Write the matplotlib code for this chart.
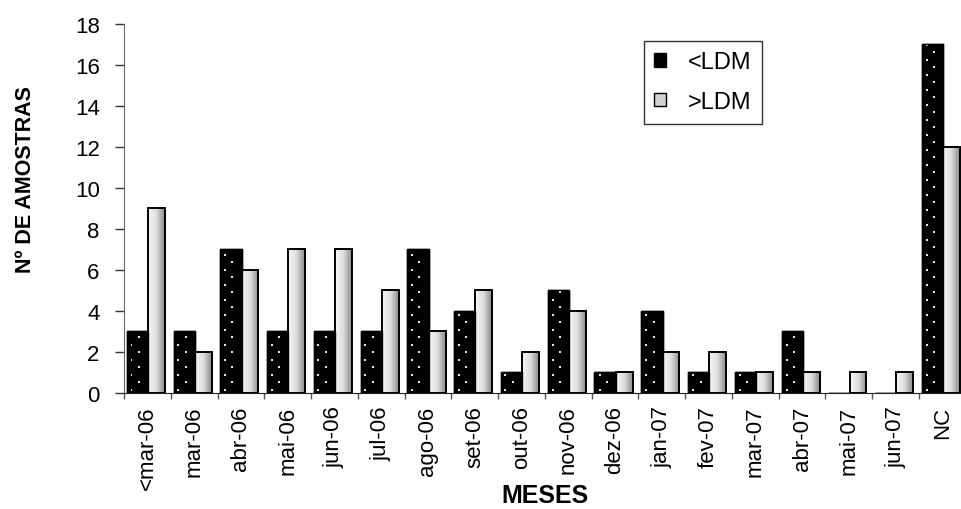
import numpy as np
import matplotlib
matplotlib.use('Agg')
import matplotlib.pyplot as plt
from matplotlib.colors import LinearSegmentedColormap
from matplotlib.path import Path
from matplotlib.patches import Patch

meses = ['<mar-06', 'mar-06', 'abr-06', 'mai-06', 'jun-06', 'jul-06', 'ago-06',
         'set-06', 'out-06', 'nov-06', 'dez-06', 'jan-07', 'fev-07', 'mar-07',
         'abr-07', 'mai-07', 'jun-07', 'NC']
abaixo_ldm = [3, 3, 7, 3, 3, 3, 7, 4, 1, 5, 1, 4, 1, 1, 3, 0, 0, 17]
acima_ldm = [9, 2, 6, 7, 7, 5, 3, 5, 2, 4, 1, 2, 2, 1, 1, 1, 1, 12]

plt.rcParams['font.family'] = ['Liberation Sans', 'DejaVu Sans']

fig = plt.figure(figsize=(9.61, 5.10), dpi=100)
ax = fig.add_axes([0.129, 0.2275, 0.876, 0.7235])

n = len(meses)
x = np.arange(n)
w1, w2 = 0.455, 0.36

# <LDM: black bars, white dot texture clipped to them
b1 = ax.bar(x + 0.06, abaixo_ldm, w1, align='edge', color='black',
            edgecolor='black', linewidth=1, zorder=2)
ny, nx = 369, 841
yy, xx = np.mgrid[0:ny, 0:nx]
cat_px = 841 / n
fx = (xx + 0.5) % cat_px
row = ((ny - yy) / 7.5).astype(int)
ry = (ny - yy) % 7.5
cx = np.where(row % 2 == 0, 7.5, 15.0)
dots = (np.abs(fx - cx) < 1.0) & (np.abs(ry - 3.75) < 1.0)
tex = np.zeros((ny, nx, 3))
tex[dots] = 0.9
paths = [b.get_path().transformed(b.get_patch_transform()) for b in b1 if b.get_height() > 0]
clip = Path.make_compound_path(*paths)
im = ax.imshow(tex, extent=[0, n, 0, 18], aspect='auto', zorder=3, interpolation='nearest')
im.set_clip_path(clip, ax.transData)
ax.bar(x + 0.06, abaixo_ldm, w1, align='edge', color='none',
       edgecolor='black', linewidth=1, zorder=4)

# >LDM: grey gradient bars
cmap = LinearSegmentedColormap.from_list('g', ['#f6f6f6', '#dedede', '#8a8a8a'])
grad = np.linspace(0, 1, 64).reshape(1, -1)
b2 = ax.bar(x + 0.06 + w1, acima_ldm, w2, align='edge', color='none',
            edgecolor='black', linewidth=1.4, zorder=4)
for b in b2:
    if b.get_height() == 0:
        continue
    g = ax.imshow(grad, cmap=cmap, aspect='auto', zorder=3,
                  extent=[b.get_x(), b.get_x() + b.get_width(), 0, b.get_height()])
    g.set_clip_path(b)

ax.set_xlim(0, n)
ax.set_ylim(0, 18)
ax.set_yticks(range(0, 19, 2))
ax.set_xticks(np.arange(n + 1))
ax.set_xticklabels([])
ax.set_xticks(x + 0.5, minor=True)
ax.set_xticklabels(meses, minor=True, rotation=90, fontsize=16)
ax.tick_params(axis='x', which='minor', length=0, pad=9)
ax.tick_params(axis='x', which='major', length=4, width=1, color='#555555')
ax.tick_params(axis='y', labelsize=16, length=6.5, width=1, pad=11, color='#333333')

for s in ['top', 'right']:
    ax.spines[s].set_visible(False)
ax.spines['left'].set_color('#666666')
ax.spines['bottom'].set_color('#222222')

ax.set_ylabel('Nº DE AMOSTRAS', fontsize=15.5, fontweight='bold',
              family=['Liberation Sans Narrow', 'Liberation Sans', 'DejaVu Sans'])
ax.yaxis.set_label_coords(-0.104, 0.58)
ax.set_xlabel('MESES', fontsize=18, fontweight='bold')
ax.xaxis.set_label_coords(0.5, -0.243)

h1 = Patch(facecolor='black', edgecolor='black')
h2 = Patch(facecolor='#d0d0d0', edgecolor='black')
leg = ax.legend([h1, h2], ['<LDM', '>LDM'], loc='upper left',
                bbox_to_anchor=(0.6175, 0.955), fontsize=17, frameon=True,
                fancybox=False, edgecolor='black', handlelength=0.5,
                handleheight=0.5, handletextpad=0.9, borderpad=0.45,
                labelspacing=0.75, borderaxespad=0)
leg.get_frame().set_linewidth(1)

fig.savefig('out.png', dpi=100)
